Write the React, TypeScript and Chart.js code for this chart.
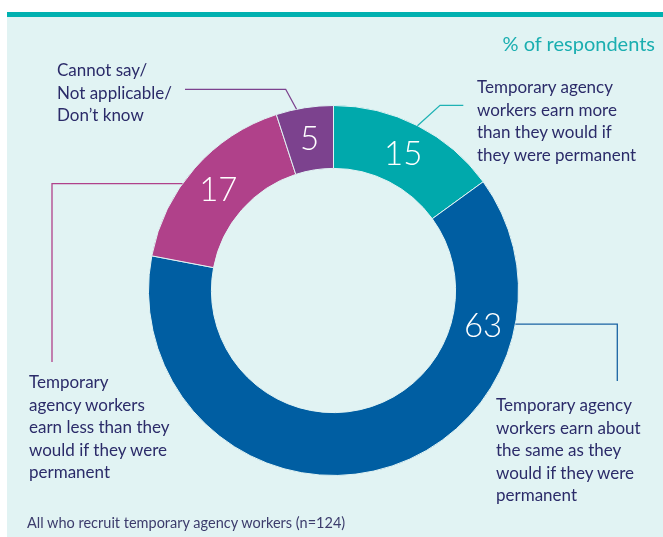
import { useEffect, useRef } from "react";
import { Chart, registerables } from "chart.js";

Chart.register(...registerables);

const categories = [
  "Temporary agency workers earn more than they would if they were permanent",
  "Temporary agency workers earn about the same as they would if they were permanent",
  "Temporary agency workers earn less than they would if they were permanent",
  "Cannot say/ Not applicable/ Don't know",
];
const categoryLines = [
  ["Temporary agency", "workers earn more", "than they would if", "they were permanent"],
  ["Temporary agency", "workers earn about", "the same as they", "would if they were", "permanent"],
  ["Temporary", "agency workers", "earn less than they", "would if they were", "permanent"],
  ["Cannot say/", "Not applicable/", "Don\u2019t know"],
];
const values = [15, 63, 17, 5];
const colors = ["#00a9ac", "#005ea2", "#b0418a", "#7c428e"];
const leaderColors = ["#1fb2b4", "#1a63a3", "#b0418a", "#7c428e"];

// where along each arc the number sits (fraction of the arc's sweep)
const numberFractions = [0.5, 0.2165, 0.5, 0.5];
// where along each arc the leader line starts
const leaderFractions = [0.5, 0.205, 0.4, 0.36];

const TITLE = "% of respondents";
const FOOTER = "All who recruit temporary agency workers (n=124)";

const BG = "#e1f3f3";
const TEXT = "#2b2b69";

type Pt = [number, number];
// leader paths: given start point on the ring, return the rest of the polyline
const leaderPaths: ((s: Pt) => Pt[])[] = [
  () => [[440, 105.3], [463.3, 105.3]],
  (s) => [[617.3, s[1]], [617.3, 381]],
  (s) => [[52, s[1]], [52, 362]],
  () => [[285.7, 89.3], [185, 89.3]],
];

const labelBoxes = [
  { left: 477, top: 76 },
  { left: 496, top: 394 },
  { left: 29, top: 371 },
  { left: 57, top: 59 },
];

const overlayPlugin = {
  id: "overlay",
  afterDatasetsDraw(chart: any) {
    const ctx: CanvasRenderingContext2D = chart.ctx;
    const meta = chart.getDatasetMeta(0);
    meta.data.forEach((arc: any, i: number) => {
      const p = arc.getProps(["x", "y", "startAngle", "endAngle", "innerRadius", "outerRadius"], true);
      // leader line
      const la = p.startAngle + (p.endAngle - p.startAngle) * leaderFractions[i];
      const s: Pt = [p.x + Math.cos(la) * p.outerRadius, p.y + Math.sin(la) * p.outerRadius];
      const rest = leaderPaths[i](s);
      ctx.save();
      ctx.strokeStyle = leaderColors[i];
      ctx.lineWidth = 1.3;
      ctx.beginPath();
      ctx.moveTo(s[0], s[1]);
      rest.forEach((q) => ctx.lineTo(q[0], q[1]));
      ctx.stroke();
      ctx.restore();
      // number
      const na = p.startAngle + (p.endAngle - p.startAngle) * numberFractions[i];
      const r = (p.innerRadius + p.outerRadius) / 2;
      ctx.save();
      ctx.fillStyle = "#ffffff";
      ctx.font = "300 33px Lato";
      ctx.textAlign = "center";
      ctx.textBaseline = "middle";
      ctx.fillText(String(values[i]), p.x + Math.cos(na) * r, p.y + Math.sin(na) * r + 1);
      ctx.restore();
    });
  },
};

export default function App() {
  const ref = useRef<HTMLCanvasElement | null>(null);
  useEffect(() => {
    if (!ref.current) return;
    const chart = new Chart(ref.current, {
      type: "doughnut",
      data: {
        labels: categories,
        datasets: [
          {
            data: values,
            backgroundColor: colors,
            borderColor: BG,
            borderWidth: 1,
          },
        ],
      },
      options: {
        responsive: false,
        animation: false,
        events: [],
        cutout: "66%",
        layout: { padding: { left: 148, right: 144, top: 105, bottom: 61 } },
        plugins: {
          legend: { display: false },
          tooltip: { enabled: false },
        },
      },
      plugins: [overlayPlugin],
    });
    return () => chart.destroy();
  }, []);

  const font = "Lato, 'Open Sans', sans-serif";
  return (
    <div style={{ position: "absolute", left: 0, top: 0, width: 663, height: 537, background: "#fff", overflow: "hidden", fontFamily: font }}>
      <div style={{ position: "absolute", left: 7, top: 12, right: 0, bottom: 0, background: BG, borderTop: "5px solid #00b1b0" }} />
      <canvas ref={ref} width={663} height={537} style={{ position: "absolute", left: 0, top: 0, width: 663, height: 537 }} />
      <div style={{ position: "absolute", right: 8, top: 31, fontSize: 20, lineHeight: "24px", color: "#1aaeb0", whiteSpace: "nowrap" }}>{TITLE}</div>
      {categoryLines.map((lines, i) => (
        <div key={i} style={{ position: "absolute", left: labelBoxes[i].left, top: labelBoxes[i].top, fontSize: 17, lineHeight: "22.5px", color: TEXT, whiteSpace: "nowrap" }}>
          {lines.map((l, j) => (
            <div key={j}>{l}</div>
          ))}
        </div>
      ))}
      <div style={{ position: "absolute", left: 27, top: 513, fontSize: 14.5, lineHeight: "19px", color: "#3c3c6c", whiteSpace: "nowrap" }}>{FOOTER}</div>
    </div>
  );
}
